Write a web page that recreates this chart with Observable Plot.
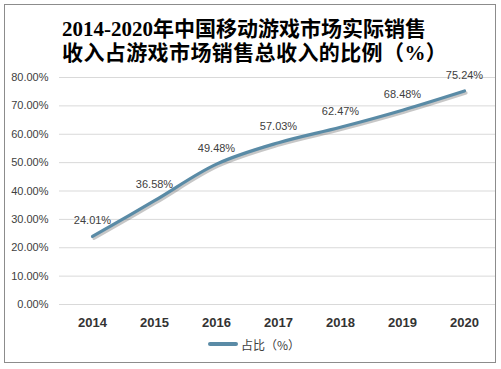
<!DOCTYPE html>
<html>
<head>
<meta charset="utf-8">
<script src="https://cdn.jsdelivr.net/npm/d3@7"></script>
<script src="https://cdn.jsdelivr.net/npm/@observablehq/plot@0.6"></script>
<style>
  html, body { margin: 0; padding: 0; background: #fff; }
  #wrap { position: relative; width: 501px; height: 369px; overflow: hidden; background: #fff; }
  #frame { position: absolute; left: 4px; top: 4px; width: 490px; height: 357px; border: 1px solid #8c8c8c; pointer-events: none; }
  #title { position: absolute; left: 62px; top: 17px; width: 435px; text-align: left; font-family: "Liberation Serif", "Noto Sans CJK SC", serif; font-weight: bold; font-size: 21px; line-height: 24px; color: #000; white-space: nowrap; }
  #title .l2 { letter-spacing: 0.4px; }
  #chart { position: absolute; left: 0; top: 70px; }
  #legend { position: absolute; left: 208px; top: 335px; height: 18px; display: flex; align-items: center; font-family: "Noto Sans CJK SC", sans-serif; font-size: 12px; color: #404040; }
  #legend .sw { width: 30px; height: 4px; background: #5a8ba6; border-radius: 2px; margin-right: 3px; }
</style>
</head>
<body>
<div id="wrap">
  <div id="title"><div>2014-2020年中国移动游戏市场实际销售</div><div class="l2">收入占游戏市场销售总收入的比例（%）</div></div>
  <div id="chart"></div>
  <div id="legend"><span class="sw"></span><span>占比（%）</span></div>
  <div id="frame"></div>
</div>
<script>
const years = ["2014", "2015", "2016", "2017", "2018", "2019", "2020"];
const shares = [24.01, 36.58, 49.48, 57.03, 62.47, 68.48, 75.24];
const yTicks = [0, 10, 20, 30, 40, 50, 60, 70, 80];
const seriesName = "占比（%）";

const data = years.map((y, i) => ({year: y, value: shares[i]}));
const fmt = v => v.toFixed(2) + "%";

const chart = Plot.plot({
  width: 501,
  height: 265,
  marginTop: 7,
  marginBottom: 31,
  marginLeft: 59,
  marginRight: 5,
  style: { fontFamily: "Liberation Sans, Arial, sans-serif", fontSize: "11px", color: "#404040", background: "transparent" },
  x: { domain: years, type: "point", padding: 0.5, label: null },
  y: { domain: [0, 80], label: null },
  marks: [
    Plot.gridY(yTicks, { stroke: "#d9d9d9", strokeOpacity: 1, strokeWidth: 1 }),
    Plot.axisY(yTicks, { tickSize: 0, tickPadding: 11, tickFormat: fmt, fill: "#404040", fontSize: 11 }),
    Plot.axisX({ tickSize: 0, tickPadding: 13, fontWeight: "bold", fontSize: 13, fill: "#333" }),
    Plot.line(data, { x: "year", y: "value", curve: "catmull-rom", stroke: "#444", strokeOpacity: 0.3, strokeWidth: 3.2, dx: 1.5, dy: 2, strokeLinecap: "round" }),
    Plot.line(data, { x: "year", y: "value", curve: "catmull-rom", stroke: "#5a8ba6", strokeWidth: 3.2, strokeLinecap: "round" }),
    Plot.text(data, { x: "year", y: "value", text: d => fmt(d.value), dy: -16, fill: "#404040", fontSize: 11 })
  ]
});
document.getElementById("chart").appendChild(chart);
</script>
</body>
</html>
